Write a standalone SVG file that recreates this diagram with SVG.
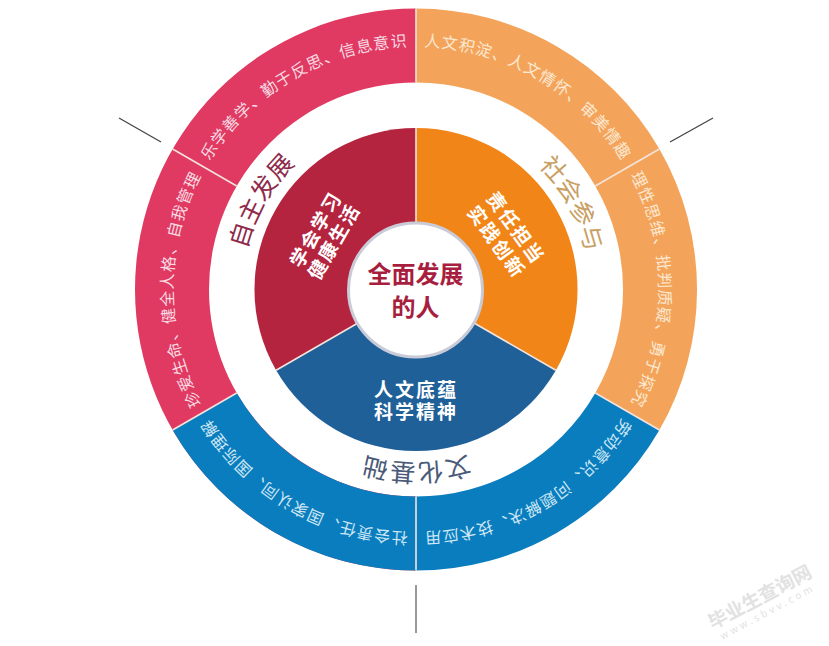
<svg xmlns="http://www.w3.org/2000/svg" width="829" height="646" viewBox="0 0 829 646">
<style>
text{font-family:"Noto Sans CJK SC","Liberation Sans",sans-serif}
.o{font-size:16px;letter-spacing:1px;text-anchor:middle}
.l{font-size:25px;text-anchor:middle}
.i{font-size:19px;font-weight:700;fill:#fff;text-anchor:middle;letter-spacing:2px}
.div{stroke:#f3e3dc;stroke-width:1.6;fill:none}
.arc{fill:none}
</style>
<defs>
<path id="p-a" class="arc" d="M205.560 411A243 243 0 0 1 205.560 168"/>
<path id="p-b" class="arc" d="M205.560 168A243 243 0 0 1 416 46.500"/>
<path id="p-c" class="arc" d="M416 46.500A243 243 0 0 1 626.440 168"/>
<path id="p-d" class="arc" d="M626.440 168A243 243 0 0 1 626.440 411"/>
<path id="p-e" class="arc" d="M626.440 411A243 243 0 0 1 416 532.500"/>
<path id="p-f" class="arc" d="M416 532.500A243 243 0 0 1 205.560 411"/>
<path id="p-z" class="arc" d="M242 289.500A174 174 0 0 1 416 115.500"/>
<path id="p-s" class="arc" d="M416 115.500A174 174 0 0 1 590 289.500"/>
<path id="p-w" class="arc" d="M590 289.500A174 174 0 0 1 242 289.500"/>
</defs>
<rect width="829" height="646" fill="#fff"/>
<g id="connectors">
<line x1="119" y1="118" x2="161" y2="142" stroke="#444" stroke-width="1.3"/>
<line x1="670" y1="142" x2="713" y2="118" stroke="#444" stroke-width="1.3"/>
<line x1="416" y1="585" x2="416" y2="633" stroke="#777" stroke-width="1.5"/>
</g>
<g id="outer-ring">
<path fill="#E03A62" d="M416 8.500A281 281 0 0 0 416 570.500L416 496.500A207 207 0 0 1 416 82.500Z"/>
<path fill="#F4A45A" d="M416 8.500A281 281 0 0 1 659.400 430L595.300 393A207 207 0 0 0 416 82.500Z"/>
<path fill="#0A7DBE" d="M172.600 430L236.700 393A207 207 0 0 0 595.300 393L659.400 430A281 281 0 0 1 172.600 430Z"/>
<path class="div" d="M416 8.500V82.500M172.600 149L236.700 186M659.400 149L595.300 186M172.600 430L236.700 393M659.400 430L595.300 393M416 496.500V570.500"/>
</g>
<g id="inner-pie">
<path fill="#B5243F" d="M416 289.500V128A161.500 161.500 0 0 0 276.100 370.250Z"/>
<path fill="#F28518" d="M416 289.500V128A161.500 161.500 0 0 1 555.900 370.250Z"/>
<path fill="#1F6098" d="M416 289.500L276.100 370.250A161.500 161.500 0 0 0 555.900 370.250Z"/>
<path class="div" d="M416 289.500V128M416 289.500L276.100 370.250M416 289.500L555.900 370.250"/>
</g>
<g id="center">
<circle cx="415.500" cy="290" r="67" fill="#fff" stroke="#c9ccd8" stroke-width="3"/>
<text x="415.500" y="283" text-anchor="middle" font-size="24" font-weight="700" fill="#A81E3E">全面发展</text>
<text x="415.500" y="316" text-anchor="middle" font-size="24" font-weight="700" fill="#A81E3E">的人</text>
</g>
<g id="zizhu">
<text class="o" fill="#f9dbe2"><textPath href="#p-a" startOffset="50%">珍爱生命、健全人格、自我管理</textPath></text>
<text class="o" fill="#f9dbe2"><textPath href="#p-b" startOffset="50%">乐学善学、勤于反思、信息意识</textPath></text>
<text class="l" fill="#8e2a4a"><textPath href="#p-z" startOffset="33%">自主发展</textPath></text>
<text class="i" transform="translate(322 233) rotate(-60)">学会学习</text>
<text class="i" transform="translate(340 245) rotate(-60)">健康生活</text>
</g>
<g id="shehui">
<text class="o" fill="#fbe8d2"><textPath href="#p-c" startOffset="50%">人文积淀、人文情怀、审美情趣</textPath></text>
<text class="o" fill="#fbe8d2"><textPath href="#p-d" startOffset="50%">理性思维、批判质疑、勇于探究</textPath></text>
<text class="l" fill="#c9a063"><textPath href="#p-s" startOffset="68%">社会参与</textPath></text>
<text class="i" transform="translate(510 232) rotate(54)">责任担当</text>
<text class="i" transform="translate(491 246) rotate(54)">实践创新</text>
</g>
<g id="wenhua">
<text class="o" fill="#cfe8f5"><textPath href="#p-e" startOffset="50%">劳动意识、问题解决、技术应用</textPath></text>
<text class="o" fill="#cfe8f5"><textPath href="#p-f" startOffset="50%">社会责任、国家认同、国际理解</textPath></text>
<text class="l" fill="#4a5a78" letter-spacing="1.5"><textPath href="#p-w" startOffset="50%">文化基础</textPath></text>
<text class="i" x="416" y="397">人文底蕴</text>
<text class="i" x="416" y="419">科学精神</text>
</g>
<g id="watermark" fill="#e2e2e2">
<text transform="translate(763 603) rotate(-28)" font-size="19" font-weight="700" text-anchor="middle">毕业生查询网</text>
<text transform="translate(769 615) rotate(-28)" font-size="10" font-family="Liberation Serif" letter-spacing="3" text-anchor="middle">www.sbvv.com</text>
</g>
</svg>
